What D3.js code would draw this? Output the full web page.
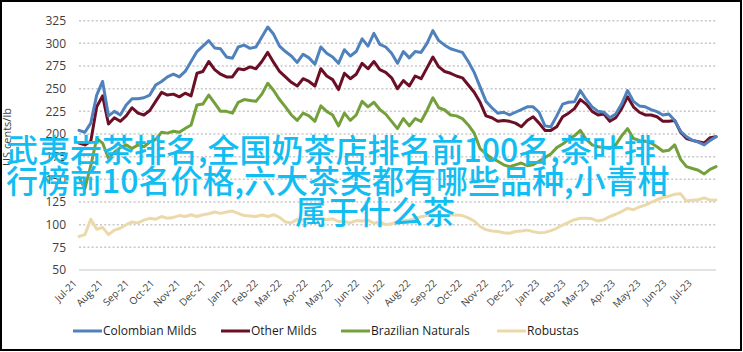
<!DOCTYPE html>
<html><head><meta charset="utf-8">
<script src="https://cdn.jsdelivr.net/npm/d3@7/dist/d3.min.js"></script>
<style>
html,body{margin:0;padding:0;background:#fff;}
svg{display:block;}
</style></head>
<body>
<svg id="chart" width="743" height="352"></svg>
<script>
// ---- DATA ----
const dates = [
"2021-07-01","2021-07-08","2021-07-15","2021-07-22","2021-07-29","2021-08-05","2021-08-12","2021-08-19","2021-08-26",
"2021-09-02","2021-09-09","2021-09-16","2021-09-23","2021-09-30","2021-10-07","2021-10-14","2021-10-21","2021-10-28",
"2021-11-04","2021-11-11","2021-11-18","2021-11-25","2021-12-02","2021-12-09","2021-12-16","2021-12-23","2021-12-30",
"2022-01-06","2022-01-13","2022-01-20","2022-01-27","2022-02-03","2022-02-10","2022-02-17","2022-02-24",
"2022-03-03","2022-03-10","2022-03-17","2022-03-24","2022-03-31","2022-04-07","2022-04-14","2022-04-21","2022-04-28",
"2022-05-05","2022-05-12","2022-05-19","2022-05-26","2022-06-02","2022-06-09","2022-06-16","2022-06-23","2022-06-30",
"2022-07-07","2022-07-14","2022-07-21","2022-07-28","2022-08-04","2022-08-11","2022-08-18","2022-08-25",
"2022-09-01","2022-09-08","2022-09-15","2022-09-22","2022-09-29","2022-10-06","2022-10-13","2022-10-20","2022-10-27",
"2022-11-03","2022-11-10","2022-11-17","2022-11-24","2022-12-01","2022-12-08","2022-12-15","2022-12-22","2022-12-29",
"2023-01-05","2023-01-12","2023-01-19","2023-01-26","2023-02-02","2023-02-09","2023-02-16","2023-02-23",
"2023-03-02","2023-03-09","2023-03-16","2023-03-23","2023-03-30","2023-04-06","2023-04-13","2023-04-20","2023-04-27",
"2023-05-04","2023-05-11","2023-05-18","2023-05-25","2023-06-01","2023-06-08","2023-06-15","2023-06-22","2023-06-29",
"2023-07-06","2023-07-13","2023-07-20","2023-07-27"];

const colombianMilds = [204,202,212,243,258,220,225,221,232,239,239,240,243,254,258,263,266,263,269,280,291,297,303,295,294,285,283.5,
296,298,294.5,296,307,318,310,297,291,286,279,288,284,277,296,289,285,278,293,286,291,305,297,311,299,296,
289,278,291,284,291,290,300,314,303,298,294,292,290,280,268,252,236,229,223,224,221,224,227,230,230,224,
209,208,220,233,235,235.5,248,238,230,225,224,218,222,233,248,236,231,230,227,224.6,221,222,215,203,197,193,191,188,193,197];

const otherMilds = [190,188,192,230,242,211,218,214,220,229,223,221,226,236,246,243,244,241,245,242,267,269,280,271,266,263,263,
272,271,274,272,280,290,279,269,263,257,253,261,258,253,272,264,260,249,267,261,266,278,272,280,271,268,
262,250,259,253,264,261,273,285,274,269,267,264,262,254,246,235,220,218,214,215,214,212,208,215,219,212,
204,204,208,219,223,228,238,233,225,221,222,214,218,228,241,230,224,221,221,219,214,214,215,202,195,193,191.5,190,196,197];

const brazilianNaturals = [152,140,165,195,190,173,180,185,188,184,188,186,191,194,202,201,203,202,206,210,232,233,243,234,225,225,223,
235,238,237,236,244,256,248,238,230,221,215,223,220,214,231,225,221,209,223,215,221,236,230,235,227,222,
214,206,217,209,217,214,226,240,229,226.5,221,220,217,210,201,184,178,173,170,166,164,166,168,165,166,170,
174,178,185,189,194,198,204,194,188,186,185,184,188,198,206,195,193,192,190,186,181,182,188,172,164,162,160,156,161,164];

const robustas = [87,89,106,95,97,89,94,96,100,103,102,105,107,106,109,107,108,110,109,111,109,111,112,114,112.5,114,115,
112.5,110,109.5,109,110.7,109,111,108,103,102,106,105,108.5,106,107,105.5,106.5,103.5,103.5,102,104.5,104,105,101.5,103,100,
101,103,105,105,107,108.8,110,110.5,109,109.5,110.7,110.7,110,107.5,104,98,94.5,93,92.5,91,90.5,92.5,93,94,92.3,91,
91.5,93.5,96,99.6,102.5,105.5,107,107,106.5,104,105.5,109,111.5,114.5,118,116.5,119.5,121.5,124.5,127.5,130,131.5,133.5,134,126,127,127.5,129.5,127,127.2];

const seriesNames = ["Colombian Milds","Other Milds","Brazilian Naturals","Robustas"];
const seriesColors = ["#4f81bd","#6b0f26","#74a03c","#ecd9a9"];
const yTicks = [50,75,100,125,150,175,200,225,250,275,300,325];
const monthLabels = ["Jul-21","Aug-21","Sep-21","Oct-21","Nov-21","Dec-21","Jan-22","Feb-22","Mar-22","Apr-22","May-22","Jun-22",
"Jul-22","Aug-22","Sep-22","Oct-22","Nov-22","Dec-22","Jan-23","Feb-23","Mar-23","Apr-23","May-23","Jun-23","Jul-23"];
const yTitle = "US cents/lb";
const overlayLines = ["武夷岩茶排名,全国奶茶店排名前100名,茶叶排","行榜前10名价格,六大茶类都有哪些品种,小青柑","属于什么茶"];

// ---- DRAW ----
const svg = d3.select("#chart");
const parse = d3.timeParse("%Y-%m-%d");
const dts = dates.map(parse);
const firstMonth = parse("2021-07-01");
const monthDates = monthLabels.map((_, i) => d3.timeMonth.offset(firstMonth, i));

const x = d3.scaleTime().domain([firstMonth, parse("2023-07-27")]).range([79, 716]);
const y = d3.scaleLinear().domain([50, 325]).range([270, 20.7]);

svg.append("rect").attr("x",1).attr("y",1).attr("width",740).attr("height",349)
  .attr("fill","#fff").attr("stroke","#000").attr("stroke-width",2);

// gridlines
svg.append("g").selectAll("line").data(yTicks).join("line")
  .attr("x1",79).attr("x2",716)
  .attr("y1",d=>y(d)).attr("y2",d=>y(d))
  .attr("stroke", d=> d===50 ? "#d9d9d9" : "#c8c8c8")
  .attr("stroke-width", d=> d===50 ? 1.5 : 1.5)
  .attr("stroke-dasharray", d=> d===50 ? null : "2,2.2");

// y axis labels
const yAxis = d3.axisLeft(y).tickValues(yTicks).tickSize(0).tickPadding(0);
const gy = svg.append("g").attr("transform","translate(66,0)").call(yAxis);
gy.select(".domain").remove();
gy.selectAll("text").attr("font-family","'Open Sans', sans-serif").attr("font-size",12).attr("fill","#404040");

// x axis labels
const xAxis = d3.axisBottom(x).tickValues(monthDates).tickSize(0).tickFormat((d,i)=>monthLabels[i]);
const gx = svg.append("g").attr("transform","translate(0,270)").call(xAxis);
gx.select(".domain").remove();
gx.selectAll("text")
  .attr("font-family","'Open Sans', sans-serif").attr("font-size",10).attr("fill","#404040")
  .attr("text-anchor","end").attr("dy",null).attr("y",0)
  .attr("transform","translate(-2,14) rotate(-45)");

// y title
svg.append("text").attr("transform","translate(11,137) rotate(-90)")
  .attr("text-anchor","middle").attr("font-family","'Open Sans', sans-serif")
  .attr("font-size",11).attr("fill","#404040").text(yTitle);

// lines
const allSeries = [colombianMilds, otherMilds, brazilianNaturals, robustas];
const line = d3.line().x((d,i)=>x(dts[i])).y(d=>y(d));
const drawOrder = [3,2,1,0];
drawOrder.forEach(si=>{
  svg.append("path").datum(allSeries[si])
    .attr("d", line).attr("fill","none")
    .attr("stroke", seriesColors[si]).attr("stroke-width",3)
    .attr("stroke-linejoin","round").attr("stroke-linecap","round");
});

// legend
const legendX = [73, 221, 341, 497];
const lg = svg.append("g");
seriesNames.forEach((n,i)=>{
  lg.append("line").attr("x1",legendX[i]).attr("x2",legendX[i]+29)
    .attr("y1",331).attr("y2",331).attr("stroke",seriesColors[i]).attr("stroke-width",3);
  lg.append("text").attr("x",legendX[i]+30).attr("y",331).attr("dy","0.35em")
    .attr("font-family","'Open Sans', sans-serif").attr("font-size",12).attr("fill","#1a1a1a").text(n);
});

// overlay text
const ov = svg.append("g").attr("font-family","'Noto Sans CJK SC', sans-serif")
  .attr("font-size",32).attr("font-weight",500).attr("fill","#12bdf2");
ov.append("text").attr("x",6).attr("y",162).text(overlayLines[0]);
ov.append("text").attr("x",6).attr("y",193).text(overlayLines[1]);
ov.append("text").attr("x",295).attr("y",224).text(overlayLines[2]);
</script>
</body></html>
